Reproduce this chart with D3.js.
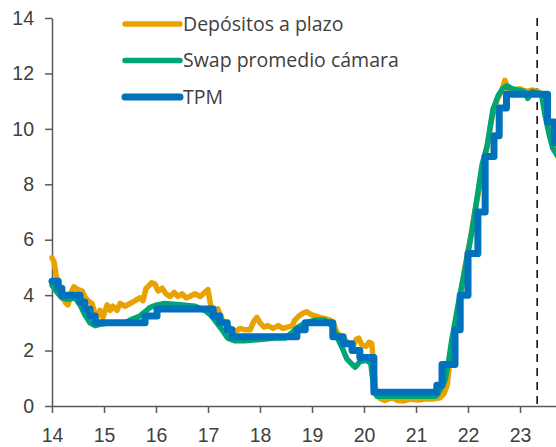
<!DOCTYPE html>
<html>
<head>
<meta charset="utf-8">
<script src="https://cdn.jsdelivr.net/npm/d3@7"></script>
<style>
  body { margin: 0; background: #fff; }
  svg { display: block; font-family: "Open Sans", "Liberation Sans", sans-serif; }
</style>
</head>
<body>
<script>
// Tasas (%): depósitos a plazo, swap promedio cámara y TPM
const yearTicks = [14, 15, 16, 17, 18, 19, 20, 21, 22, 23];
const valueTicks = [0, 2, 4, 6, 8, 10, 12, 14];
const seriesNames = ["Depósitos a plazo", "Swap promedio cámara", "TPM"];
const markerYear = 23.33;

const depositosDates = [14.00, 14.04, 14.08, 14.12, 14.15, 14.21, 14.27, 14.31, 14.37, 14.42, 14.50, 14.58, 14.63, 14.69, 14.77, 14.83, 14.88, 14.92, 14.98, 15.06, 15.12, 15.17, 15.25, 15.31, 15.40, 15.50, 15.60, 15.69, 15.75, 15.81, 15.87, 15.92, 15.98, 16.04, 16.12, 16.19, 16.27, 16.35, 16.42, 16.50, 16.58, 16.65, 16.75, 16.85, 16.94, 17.00, 17.04, 17.08, 17.13, 17.19, 17.25, 17.31, 17.37, 17.44, 17.54, 17.62, 17.71, 17.81, 17.88, 17.94, 18.00, 18.08, 18.15, 18.25, 18.35, 18.44, 18.54, 18.62, 18.67, 18.75, 18.83, 18.90, 18.98, 19.06, 19.15, 19.25, 19.35, 19.42, 19.48, 19.56, 19.63, 19.71, 19.79, 19.85, 19.90, 19.96, 20.04, 20.10, 20.15, 20.19, 20.23, 20.29, 20.40, 20.54, 20.65, 20.77, 20.88, 21.04, 21.17, 21.31, 21.46, 21.54, 21.60, 21.63, 21.67, 21.73, 21.79, 21.87, 21.94, 22.04, 22.13, 22.23, 22.31, 22.38, 22.46, 22.56, 22.65, 22.71, 22.77, 22.88, 23.00, 23.12, 23.23, 23.35, 23.44, 23.50, 23.58, 23.65, 23.77];
const depositosValues = [5.35, 5.2, 4.7, 4.45, 4.2, 3.9, 3.7, 3.65, 4.1, 4.3, 4.2, 4.15, 3.95, 3.8, 3.7, 3.3, 3.25, 3.45, 3.2, 3.65, 3.45, 3.6, 3.45, 3.7, 3.6, 3.7, 3.8, 3.9, 3.8, 4.25, 4.35, 4.45, 4.4, 4.15, 4.25, 4.05, 3.95, 4.1, 3.95, 4.05, 3.9, 3.95, 4.05, 3.95, 4.1, 4.2, 3.75, 3.4, 3.35, 3.5, 3.2, 3.0, 2.9, 2.8, 2.7, 2.8, 2.75, 2.75, 3.05, 3.2, 3.0, 2.85, 2.9, 2.8, 2.9, 2.8, 2.85, 2.9, 3.1, 3.25, 3.35, 3.4, 3.3, 3.25, 3.2, 3.15, 3.1, 2.95, 2.65, 2.5, 2.4, 2.25, 2.15, 2.4, 2.45, 2.2, 2.15, 2.3, 2.25, 1.35, 0.45, 0.3, 0.2, 0.3, 0.2, 0.18, 0.25, 0.22, 0.25, 0.25, 0.3, 0.45, 0.75, 1.3, 1.85, 2.45, 3.2, 4.1, 5.0, 6.0, 7.0, 8.0, 8.75, 9.5, 10.4, 11.05, 11.4, 11.75, 11.45, 11.4, 11.45, 11.35, 11.4, 11.35, 11.2, 10.6, 9.9, 9.3, 8.8];

const swapDates = [14.00, 14.10, 14.19, 14.31, 14.44, 14.54, 14.63, 14.73, 14.83, 14.92, 15.12, 15.40, 15.50, 15.69, 15.79, 15.88, 16.02, 16.17, 16.46, 16.75, 16.94, 17.04, 17.13, 17.27, 17.38, 17.52, 17.71, 18.00, 18.29, 18.48, 18.62, 18.73, 18.87, 19.06, 19.25, 19.38, 19.48, 19.58, 19.67, 19.77, 19.83, 19.92, 20.04, 20.13, 20.19, 20.25, 20.31, 20.69, 21.08, 21.37, 21.42, 21.48, 21.56, 21.63, 21.69, 21.79, 21.88, 21.98, 22.08, 22.19, 22.27, 22.37, 22.48, 22.58, 22.67, 22.75, 22.85, 22.96, 23.08, 23.15, 23.23, 23.33, 23.42, 23.48, 23.56, 23.63, 23.77];
const swapValues = [4.35, 4.1, 3.9, 3.85, 3.9, 3.65, 3.3, 3.0, 2.9, 2.95, 3.0, 3.0, 3.1, 3.25, 3.4, 3.55, 3.65, 3.7, 3.65, 3.6, 3.45, 3.3, 3.1, 2.75, 2.45, 2.35, 2.35, 2.4, 2.45, 2.45, 2.65, 2.85, 3.0, 3.1, 3.1, 2.9, 2.5, 2.1, 1.7, 1.5, 1.4, 1.6, 1.65, 1.55, 0.6, 0.35, 0.35, 0.35, 0.35, 0.35, 0.45, 0.65, 0.95, 1.65, 2.4, 3.45, 4.35, 5.3, 6.35, 7.7, 8.7, 9.4, 10.7, 11.2, 11.45, 11.55, 11.45, 11.4, 11.35, 11.1, 11.35, 11.3, 11.2, 10.5, 9.8, 9.3, 8.9];

const tpmDates = [14.00, 14.12, 14.19, 14.54, 14.63, 14.73, 14.83, 15.79, 16.02, 17.10, 17.23, 17.37, 17.46, 18.71, 18.87, 19.40, 19.60, 19.77, 19.92, 20.19, 21.40, 21.50, 21.75, 21.85, 22.00, 22.19, 22.33, 22.50, 22.60, 22.74, 23.53, 23.66, 23.80];
const tpmValues = [4.5, 4.25, 4.0, 3.75, 3.5, 3.25, 3.0, 3.25, 3.5, 3.25, 3.0, 2.75, 2.5, 2.75, 3.0, 2.5, 2.25, 2.0, 1.75, 0.5, 0.75, 1.5, 2.75, 4.0, 5.5, 7.0, 9.0, 9.75, 10.75, 11.25, 10.25, 9.5, 9.5];

const colors = ["#E8A202", "#00A576", "#0071BC"];
const widths = [5.5, 5.5, 7];

const width = 556, height = 447;

const svg = d3.select("body").append("svg")
  .attr("width", width)
  .attr("height", height);

const x = d3.scaleLinear().domain([14, 24]).range([52, 572]);
const y = d3.scaleLinear().domain([0, 14]).range([406, 18]);

const zip = (ds, vs) => ds.map((d, i) => ({ t: d, v: vs[i] }));
const series = [
  zip(depositosDates, depositosValues),
  zip(swapDates, swapValues),
  zip(tpmDates, tpmValues)
];

// axes
const xAxis = svg.append("g")
  .attr("transform", `translate(0,${y(0)})`)
  .call(d3.axisBottom(x).tickValues(yearTicks).tickSize(7).tickSizeOuter(0).tickFormat(d3.format("d")));

const yAxis = svg.append("g")
  .attr("transform", `translate(${x(14)},0)`)
  .call(d3.axisLeft(y).tickValues(valueTicks).tickSize(7).tickSizeOuter(0));

[xAxis, yAxis].forEach(g => {
  g.select(".domain").attr("stroke", "#595959").attr("stroke-width", 1.5);
  g.selectAll(".tick line").attr("stroke", "#595959").attr("stroke-width", 1.5);
  g.selectAll(".tick text")
    .attr("fill", "#404040")
    .style("font-size", "19.5px");
});
yAxis.selectAll(".tick text").attr("x", -18);
xAxis.selectAll(".tick text").attr("y", 22);

// dashed reference line
svg.append("line")
  .attr("x1", x(markerYear)).attr("x2", x(markerYear))
  .attr("y1", y(14)).attr("y2", y(0))
  .attr("stroke", "#000")
  .attr("stroke-width", 1.5)
  .attr("stroke-dasharray", "8,6");

// lines
series.forEach((data, i) => {
  const line = d3.line()
    .x(d => x(d.t))
    .y(d => y(d.v))
    .curve(i === 2 ? d3.curveStepAfter : d3.curveLinear);
  svg.append("path")
    .datum(data)
    .attr("fill", "none")
    .attr("stroke", colors[i])
    .attr("stroke-width", widths[i])
    .attr("stroke-linejoin", "round")
    .attr("stroke-linecap", "round")
    .attr("d", line);
});

// legend
const legend = svg.append("g").attr("transform", "translate(125,24)");
seriesNames.forEach((name, i) => {
  const row = legend.append("g").attr("transform", `translate(0,${i * 36.5})`);
  row.append("line")
    .attr("x1", 0).attr("x2", 55)
    .attr("stroke", colors[i])
    .attr("stroke-width", widths[i])
    .attr("stroke-linecap", "round");
  row.append("text")
    .attr("x", 58)
    .attr("dy", "0.35em")
    .attr("fill", "#404040")
    .style("font-size", "19.5px")
    .text(name);
});
</script>
</body>
</html>
